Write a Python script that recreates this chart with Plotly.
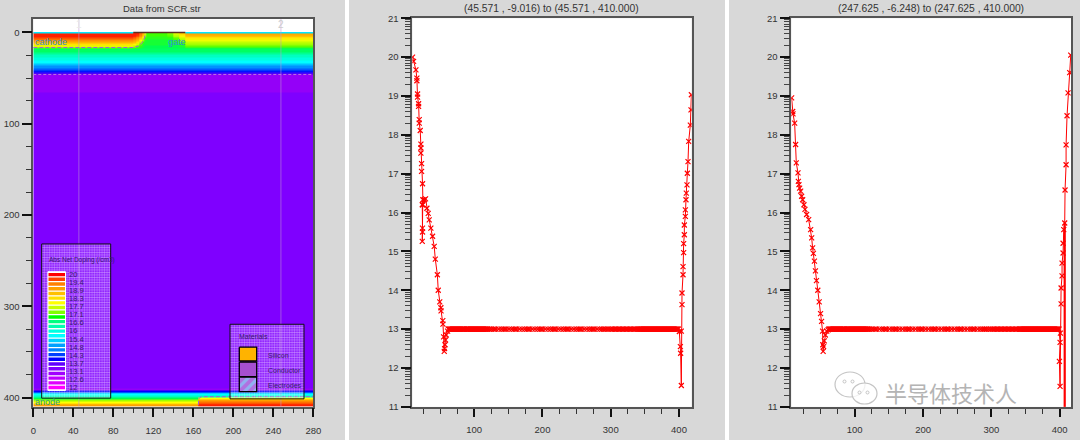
import math
import plotly.graph_objects as go

W, H = 1080, 440
BG = "#d8d8d8"

# ---------- panel 1: doping map ----------
map_x_edges = [0, 100, 103, 106, 109, 111, 113, 134, 140, 146, 152, 165, 280]
map_y_edges = [0, 2, 4, 6, 8, 10, 12, 14, 16, 18, 21.5, 24.5, 27.5, 30.5, 33.5, 36.5, 39.5, 42, 44, 46, 53, 66,
               390, 392, 394, 396, 398, 400, 402, 404, 406, 408, 410]
head_columns = [
    [20, 20, 20, 19.6, 19.1, 18.6, 18, 17.5, 16.9],
    [20, 20, 19.8, 19.4, 18.9, 18.4, 17.8, 17.2, 16.8],
    [20, 19.8, 19.4, 19, 18.5, 18, 17.4, 16.9, 16.7],
    [19.4, 19.2, 18.8, 18.3, 17.8, 17.2, 16.9, 16.7, 16.6],
    [18.6, 18.3, 17.9, 17.5, 17.1, 16.8, 16.6, 16.6, 16.5],
    [17.5, 17.2, 17, 16.8, 16.7, 16.6, 16.6, 16.5, 16.5],
    [16.8, 16.8, 16.7, 16.7, 16.6, 16.6, 16.6, 16.5, 16.5],
    [17, 16.9, 16.8, 16.7, 16.6, 16.6, 16.6, 16.5, 16.5],
    [17.5, 17.3, 17.1, 16.9, 16.8, 16.7, 16.6, 16.5, 16.5],
    [18.2, 17.9, 17.6, 17.3, 17.1, 16.9, 16.7, 16.6, 16.5],
    [18.9, 18.6, 18.2, 17.9, 17.6, 17.3, 17.1, 16.9, 16.6],
    [18.9, 18.6, 18.2, 17.9, 17.6, 17.3, 17.1, 16.9, 16.6],
]
upper_tail = [16.4, 16.1, 15.8, 15.6, 15.4, 15.0, 14.6, 14.2, 13.8, 13.5, 13.3, 13.3]
bulk_value = [13.0]
bottom_left = [13.3, 13.7, 14.8, 15.4, 15.8, 16.5, 17.1, 17.7, 18.3, 18.9]
bottom_right = [13.3, 13.7, 14.8, 15.4, 15.8, 17.7, 18.9, 19.4, 19.8, 20]
bottom_columns = [bottom_left] * 11 + [bottom_right]

doping_stops = [
    (12.0, "#ff00ff"), (12.6, "#c800ff"), (13.0, "#7f00ff"), (13.3, "#9400f8"), (13.7, "#0000ff"),
    (14.3, "#0070ff"), (14.8, "#00a8ff"), (15.4, "#00ffff"), (16.0, "#00ffa0"), (16.5, "#00ff50"),
    (16.8, "#40ff00"), (17.1, "#a0ff00"), (17.7, "#ffff00"), (18.3, "#ffc800"), (18.9, "#ffa000"),
    (19.4, "#ff7000"), (20.0, "#ff2000"),
]

legend_labels = ["20", "19.4", "18.9", "18.3", "17.7", "17.1", "16.6", "16", "15.4", "14.8", "14.3", "13.7",
                 "13.1", "12.6", "12"]
legend_colors = ["#ff0000", "#ff4000", "#ff8000", "#ffa000", "#ffc000", "#ffe000", "#ffff00", "#c8ff00",
                 "#80ff00", "#00ff00", "#00ff80", "#00ffb0", "#00ffe0", "#00ffff", "#00d0ff", "#00a0ff",
                 "#0080ff", "#0040ff", "#0000ff", "#6000ff", "#8000ff", "#a000ff", "#c000ff", "#e000ff",
                 "#ff00ff"]
material_labels = ["Silicon", "Conductor", "Electrodes"]

cathode_x = [0, 100, 105, 109, 111.5, 112]
cathode_y = [16.5, 16.5, 15, 11, 5, 1]
anode_x = [165, 165.5, 168, 280]
anode_y = [408, 401, 399, 399]

# ---------- panels 2 and 3: cut lines ----------
flat_depth = [62, 63, 64, 65, 66, 67, 68, 69, 70, 71, 72, 73, 74, 75, 76, 77, 78, 79, 80, 81, 82, 83, 84, 85, 86,
              88, 89, 90, 91, 92, 93, 94, 95, 96, 97, 98, 99, 100, 101, 102, 103, 104, 105, 106, 107, 108, 109,
              110, 111, 112, 113, 114, 115, 116, 117, 118, 119, 120, 122, 125, 128, 130, 132, 136, 140, 143,
              145, 147, 151, 155, 158, 160, 162, 166, 170, 174, 177, 179, 181, 185, 189, 193, 196, 198, 200,
              204, 208, 212, 215, 217, 219, 223, 227, 231, 234, 236, 238, 242, 246, 250, 253, 255, 257, 261,
              265, 269, 272, 274, 276, 280, 284, 287, 289, 291, 293, 296, 299, 301, 303, 305, 307, 309, 311,
              313, 315, 317, 319, 321, 323, 325, 327, 329, 331, 333, 335, 337, 339, 341, 342, 343, 344, 345,
              346, 347, 348, 349, 350, 351, 352, 353, 354, 355, 356, 357, 358, 359, 360, 361, 362, 363, 364,
              365, 366, 367, 368, 369, 370, 371, 372, 373, 374, 375, 376, 377, 378, 379, 380, 381, 382, 383,
              384, 385, 386, 387, 388, 389, 390, 391, 392, 393, 394, 395, 396, 397, 398, 399]
flat_doping = [13.0] * len(flat_depth)

cut1_head_x = [9.7, 11.2, 14.6, 16, 16, 17, 17, 18.5, 18.5, 19.5, 19.5, 20.9, 21.9, 21.9, 21.9, 22.9, 22.9, 24.3,
               24.8, 23.9, 24.2, 24.3, 23.9, 24.6, 26.8, 28.7, 30.7, 32.6, 34.1, 36.5, 39, 41.4, 43, 46, 47.3,
               49.5, 51.2, 51.4, 54, 54.2, 55.2, 56.1, 56.6, 57.2, 58, 59, 61]
cut1_head_y = [20, 19.89, 19.67, 19.46, 19.39, 19.05, 18.97, 18.8, 18.73, 18.39, 18.3, 18.11, 17.76, 17.66, 17.53,
               17.26, 17.06, 16.74, 16.33, 16.2, 15.6, 15.5, 15.26, 16.2, 16.33, 16.35, 16.11, 15.98, 15.81, 15.6,
               15.39, 15.13, 14.8, 14.4, 14.0, 13.7, 13.55, 13.47, 13.22, 13.13, 12.8, 12.43, 12.5, 12.6, 12.72,
               12.85, 12.95]
cut1_tail_x = [400.5, 402, 402.4, 403.4, 403.4, 404.4, 404.4, 405.9, 405.9, 406.8, 406.8, 407.8, 407.8, 409.3,
               409.3, 410.2, 410.7, 411.7, 412.2, 413.2, 414.2, 416.6, 417.6, 418.1]
cut1_tail_y = [12.94, 12.55, 12.38, 11.55, 12.95, 13.63, 13.93, 14.4, 14.61, 14.97, 15.2, 15.43, 15.68, 15.9,
               16.07, 16.33, 16.5, 16.71, 17.01, 17.31, 17.83, 18.25, 18.64, 19.03]

cut2_head_x = [7.7, 9.2, 9.7, 12.1, 13.5, 14.5, 17, 17.5, 18.4, 19.4, 20.9, 22.3, 23.8, 25.7, 27.2, 29.6, 32.6,
               35.5, 37, 38.4, 39.5, 41, 42.5, 44, 46, 48, 50, 51.5, 53, 53.3, 53.8, 54.5, 55.5, 57, 59, 61]
cut2_head_y = [18.95, 18.6, 18.54, 18.3, 17.75, 17.28, 17.02, 16.8, 16.72, 16.63, 16.55, 16.42, 16.33, 16.2, 16.08,
               15.95, 15.82, 15.56, 15.35, 15.09, 14.95, 14.75, 14.5, 14.25, 14.0, 13.7, 13.4, 13.2, 12.95, 12.6,
               12.43, 12.55, 12.7, 12.85, 12.95, 12.98]
cut2_tail_x = [400.5, 399.5, 400.5, 401, 402, 402, 403.4, 403.4, 404.9, 404.9, 405.9, 407.3, 407.8, 409.3, 409.3,
               410.7, 412.2, 414.6, 416.1]
cut2_tail_y = [12.66, 12.17, 11.53, 12.9, 13.65, 14.06, 14.37, 14.7, 14.96, 15.21, 15.56, 15.73, 16.58, 17.23,
               17.74, 18.49, 19.08, 19.6, 20.05]
cut2_spike_x = [407.3, 407.3]
cut2_spike_y = [15.73, 11.0]

# ---------- geometry in pixels ----------
def hd(a, b):
    return [a / W, b / W]

def vd(top, bottom):
    return [1 - bottom / H, 1 - top / H]

fig = go.Figure()

z = []
all_rows = len(map_y_edges) - 1
for r in range(all_rows):
    row = []
    for c in range(len(map_x_edges) - 1):
        col = head_columns[c] + upper_tail + bulk_value + bottom_columns[c]
        row.append(col[r])
    z.append(row)

zmin, zmax = 12.0, 20.0
cs = [[(v - zmin) / (zmax - zmin), col] for v, col in doping_stops]
fig.add_trace(go.Heatmap(x=map_x_edges, y=map_y_edges, z=z, colorscale=cs, zmin=zmin, zmax=zmax,
                         showscale=False, hoverinfo="skip", xaxis="x", yaxis="y"))


def p1(x, y, **kw):
    fig.add_trace(go.Scatter(x=x, y=y, xaxis="x", yaxis="y", showlegend=False, hoverinfo="skip", **kw))


# surface lines
p1([0, 100], [0.2, 0.2], mode="lines", line=dict(color="#00e8ff", width=1.5))
p1([152, 280], [0.2, 0.2], mode="lines", line=dict(color="#00e8ff", width=1.5))
p1([100, 152], [0, 0], mode="lines", line=dict(color="#5a3020", width=1.5))
# cut lines
p1([45.571, 45.571], [-15, 410], mode="lines", line=dict(color="rgba(190,150,210,0.55)", width=1))
p1([247.625, 247.625], [-15, 410], mode="lines", line=dict(color="rgba(190,150,210,0.55)", width=1))
# junctions
p1(cathode_x, cathode_y, mode="lines", line=dict(color="#a060d8", width=1, dash="4px,2px"))
p1(anode_x, anode_y, mode="lines", line=dict(color="#a060d8", width=1, dash="4px,2px"))
p1([0, 280], [46, 46], mode="lines", line=dict(color="#c070e0", width=1, dash="3px,2px"))


def box(x0, x1, y0, y1, **kw):
    p1([x0, x1, x1, x0, x0], [y0, y0, y1, y1, y0], mode="lines", fill="toself", **kw)


checker = dict(shape=".", fgcolor="white", size=2.5, solidity=0.6)
box(8.4, 77.4, 231.7, 400.6, line=dict(color="#101010", width=1), fillcolor="rgba(0,0,0,0)", fillpattern=checker)
box(196.7, 270.7, 319.7, 401.4, line=dict(color="#101010", width=1), fillcolor="rgba(0,0,0,0)", fillpattern=checker)

# colour legend swatches
sw_top, sw_bottom = 262.7, 391.6
sw_step = (sw_bottom - sw_top) / len(legend_colors)
box(14.6, 32.2, sw_top - 0.6, sw_bottom + 0.6, line=dict(color="white", width=1), fillcolor="white")
for i, col in enumerate(legend_colors):
    yc = sw_top + sw_step * (i + 0.5)
    p1([15.2, 31.7], [yc, yc], mode="lines", line=dict(color=col, width=3.4))

# material swatches
box(206, 223.4, 344.8, 359.8, line=dict(color="black", width=1.3), fillcolor="#ffb300")
box(206, 223.4, 361, 377, line=dict(color="black", width=1.3), fillcolor="#a64fd0")
box(206, 223.4, 377.7, 393.4, line=dict(color="black", width=1.3), fillcolor="#a64fd0",
    fillpattern=dict(shape="/", fgcolor="#70f0ff", bgcolor="#b070e0", size=7, solidity=0.45))

# cut-line curves
RED = "#ff0000"
MARK = dict(symbol="x-thin", size=5, color=RED, line=dict(color=RED, width=1.2))
fig.add_trace(go.Scatter(x=cut1_head_x + flat_depth + cut1_tail_x, y=cut1_head_y + flat_doping + cut1_tail_y,
                         mode="lines+markers", line=dict(color=RED, width=1), marker=MARK,
                         xaxis="x2", yaxis="y2", showlegend=False, hoverinfo="skip"))
fig.add_trace(go.Scatter(x=cut2_head_x + flat_depth + cut2_tail_x, y=cut2_head_y + flat_doping + cut2_tail_y,
                         mode="lines+markers", line=dict(color=RED, width=1), marker=MARK,
                         xaxis="x3", yaxis="y3", showlegend=False, hoverinfo="skip"))
fig.add_trace(go.Scatter(x=cut2_spike_x, y=cut2_spike_y, mode="lines", line=dict(color=RED, width=2.2),
                         xaxis="x3", yaxis="y3", showlegend=False, hoverinfo="skip"))

FONT = "Liberation Sans, Arial, sans-serif"
TICK = dict(family=FONT, size=9.5, color="#333333")
AXC = "#555555"


def axis(**kw):
    base = dict(showgrid=False, zeroline=False, showline=True, linecolor=AXC, linewidth=1.5, mirror=True,
                ticks="outside", tickcolor="#111111", tickwidth=2, tickfont=TICK)
    base.update(kw)
    return base


def minor_x(step):
    return dict(ticks="outside", ticklen=5, tickwidth=1, tickcolor="#333333", dtick=step, showgrid=False)


log_minor = [d + math.log10(k) for d in range(11, 21) for k in range(2, 10)]
minor_y_log = dict(tickmode="array", tickvals=log_minor, ticks="outside", ticklen=6, tickwidth=1,
                   tickcolor="#444444", showgrid=False)

fig.update_layout(
    width=W, height=H, margin=dict(l=0, r=0, t=0, b=0, pad=0, autoexpand=False), paper_bgcolor=BG,
    plot_bgcolor="white", showlegend=False,
    xaxis=axis(domain=hd(33.3, 313.3), range=[0, 280], anchor="y", tick0=0, dtick=40, ticklen=9,
               ticklabelstandoff=5, minor=minor_x(10)),
    yaxis=axis(domain=vd(18.7, 406.7), range=[410, -15.1], anchor="x", tick0=0, dtick=100, ticklen=10,
               minor=dict(ticks="outside", ticklen=6, tickwidth=1, tickcolor="#333333", dtick=25, showgrid=False)),
    xaxis2=axis(domain=hd(412.3, 691.7), range=[9.3, 418.6], anchor="y2", tick0=0, dtick=100, ticklen=8,
                ticklabelstandoff=5, minor=minor_x(25)),
    yaxis2=axis(domain=vd(18.2, 406.9), range=[11, 21], anchor="x2", tickmode="array",
                tickvals=list(range(11, 22)), ticklen=10, minor=minor_y_log),
    xaxis3=axis(domain=hd(791.3, 1071), range=[7.2, 416.5], anchor="y3", tick0=0, dtick=100, ticklen=8,
                ticklabelstandoff=5, minor=minor_x(25)),
    yaxis3=axis(domain=vd(18.2, 406.9), range=[11, 21], anchor="x3", tickmode="array",
                tickvals=list(range(11, 22)), ticklen=10, minor=minor_y_log),
)

ann = []


def note(text, x, y, size=10, color="#333333", xanchor="left", family=FONT, xref="x", yref="y", **kw):
    ann.append(dict(text=text, x=x, y=y, xref=xref, yref=yref, xanchor=xanchor, yanchor="middle", showarrow=False,
                    font=dict(family=family, size=size, color=color), borderpad=0, **kw))


def px(x, y, text, **kw):
    note(text, x / W, 1 - y / H, xref="paper", yref="paper", **kw)


px(162, 8, "Data from SCR.str", size=9.5, xanchor="center")
px(551, 8, "(45.571 , -9.016) to (45.571 , 410.000)", size=10.3, xanchor="center")
px(931, 8, "(247.625 , -6.248) to (247.625 , 410.000)", size=10.3, xanchor="center")
note("cathode", 0.7, 10.5, size=9, color="#3a8fc0")
note("gate", 133.7, 10.5, size=9, color="#2e8ad8")
note("anode", 0.5, 405, size=9, color="#2a9a8a")
note("1", 45.6, -9, size=10, color="#e8e8e8", xanchor="center")
note("2", 247.6, -9, size=10, color="#cccccc", xanchor="center")
LAB = "#3a1a70"
note("Abs Net Doping (/cm3)", 15, 249, size=6.5, color=LAB)
for i, t in enumerate(legend_labels):
    note(t, 35, 265 + i * 8.86, size=7.5, color=LAB)
note("Materials", 205, 333, size=7, color=LAB)
for t, y in zip(material_labels, [354.4, 370.8, 387]):
    note(t, 233.4, y, size=7, color=LAB)
ann.append(dict(text="半导体技术人", x=951 / W, y=1 - 392 / H, xref="paper", yref="paper", showarrow=False,
                xanchor="center", yanchor="middle",
                font=dict(family="Noto Sans CJK SC", size=22, color="#b4b4b4", shadow="1px 1px 0px #ffffff")))
fig.update_layout(annotations=ann)

# watermark bubbles
def xp(v):
    return v / W


def yp(v):
    return 1 - v / H


shapes = []
for x0, y0, x1, y1 in [(835, 372, 865, 397), (852, 383, 877, 404)]:
    shapes.append(dict(type="circle", xref="paper", yref="paper", x0=xp(x0), x1=xp(x1), y0=yp(y0), y1=yp(y1),
                       line=dict(color="#c4c4c4", width=1.2), fillcolor="rgba(255,255,255,0.75)", layer="above"))
for x0, y0 in [(843, 380), (851, 380), (858, 391), (866, 391)]:
    shapes.append(dict(type="circle", xref="paper", yref="paper", x0=xp(x0), x1=xp(x0 + 3), y0=yp(y0), y1=yp(y0 + 3),
                       line=dict(color="#c4c4c4", width=1), fillcolor="rgba(255,255,255,0)", layer="above"))
for a, b in [(345, 349), (725, 729)]:
    shapes.append(dict(type="rect", xref="paper", yref="paper", x0=xp(a), x1=xp(b), y0=0, y1=1,
                       line=dict(width=0), fillcolor="white", layer="below"))
fig.update_layout(shapes=shapes)

fig.write_html("out.html", config={"displayModeBar": False},
               post_script="document.body.style.margin='0';document.documentElement.style.overflow='hidden';")
